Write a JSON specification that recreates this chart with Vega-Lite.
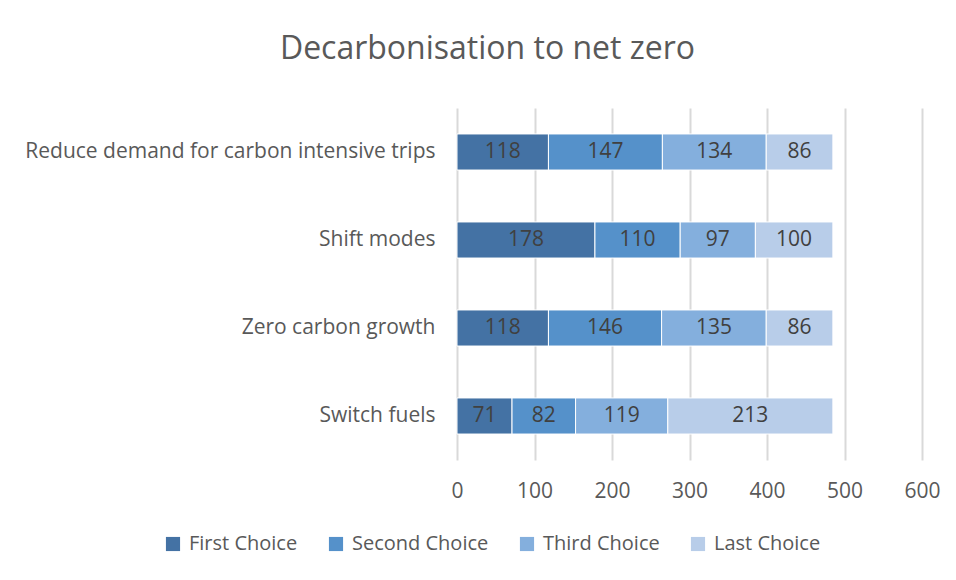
{
  "$schema": "https://vega.github.io/schema/vega-lite/v6.json",
  "autosize": {"type": "none"},
  "width": 465,
  "height": 352,
  "padding": {"left": 457, "top": 108, "right": 34, "bottom": 120},
  "background": "white",
  "config": {"view": {"stroke": null}},
  "title": {
    "text": "Decarbonisation to net zero",
    "fontSize": 32,
    "font": "Open Sans",
    "fontWeight": "normal",
    "color": "#595959",
    "anchor": "middle",
    "dx": -202,
    "offset": 42
  },
  "data": {
    "values": [
      {"task": "Reduce demand for carbon intensive trips", "choice": "First Choice", "order": 1, "count": 118},
      {"task": "Reduce demand for carbon intensive trips", "choice": "Second Choice", "order": 2, "count": 147},
      {"task": "Reduce demand for carbon intensive trips", "choice": "Third Choice", "order": 3, "count": 134},
      {"task": "Reduce demand for carbon intensive trips", "choice": "Last Choice", "order": 4, "count": 86},
      {"task": "Shift modes", "choice": "First Choice", "order": 1, "count": 178},
      {"task": "Shift modes", "choice": "Second Choice", "order": 2, "count": 110},
      {"task": "Shift modes", "choice": "Third Choice", "order": 3, "count": 97},
      {"task": "Shift modes", "choice": "Last Choice", "order": 4, "count": 100},
      {"task": "Zero carbon growth", "choice": "First Choice", "order": 1, "count": 118},
      {"task": "Zero carbon growth", "choice": "Second Choice", "order": 2, "count": 146},
      {"task": "Zero carbon growth", "choice": "Third Choice", "order": 3, "count": 135},
      {"task": "Zero carbon growth", "choice": "Last Choice", "order": 4, "count": 86},
      {"task": "Switch fuels", "choice": "First Choice", "order": 1, "count": 71},
      {"task": "Switch fuels", "choice": "Second Choice", "order": 2, "count": 82},
      {"task": "Switch fuels", "choice": "Third Choice", "order": 3, "count": 119},
      {"task": "Switch fuels", "choice": "Last Choice", "order": 4, "count": 213}
    ]
  },
  "encoding": {
    "y": {
      "field": "task",
      "type": "nominal",
      "sort": null,
      "scale": {"paddingInner": 0.59, "paddingOuter": 0.295},
      "axis": {
        "title": null,
        "domain": false,
        "ticks": false,
        "labelPadding": 22,
        "labelFontSize": 21,
        "labelFont": "Open Sans",
        "labelColor": "#595959",
        "labelLimit": 500
      }
    },
    "x": {
      "field": "count",
      "type": "quantitative",
      "stack": "zero",
      "scale": {"domain": [0, 600], "nice": false},
      "axis": {
        "title": null,
        "values": [0, 100, 200, 300, 400, 500, 600],
        "domain": false,
        "ticks": false,
        "grid": true,
        "gridColor": "#d9d9d9",
        "gridWidth": 2,
        "labelFlush": false,
        "labelPadding": 20,
        "labelFontSize": 21,
        "labelFont": "Open Sans",
        "labelColor": "#595959"
      }
    },
    "order": {"field": "order", "type": "quantitative"}
  },
  "layer": [
    {
      "mark": {"type": "bar", "stroke": "white", "strokeWidth": 1},
      "encoding": {
        "color": {
          "field": "choice",
          "type": "nominal",
          "sort": ["First Choice", "Second Choice", "Third Choice", "Last Choice"],
          "scale": {
            "domain": ["First Choice", "Second Choice", "Third Choice", "Last Choice"],
            "range": ["#4472A4", "#5591CA", "#84AFDD", "#B8CDE9"]
          },
          "legend": {
            "title": null,
            "orient": "none",
            "direction": "horizontal",
            "legendX": -294,
            "legendY": 426,
            "symbolType": "square",
            "symbolSize": 200,
            "symbolStrokeWidth": 0,
            "labelFontSize": 20,
            "labelFont": "Open Sans",
            "labelColor": "#595959",
            "labelOffset": 6,
            "columnPadding": 28,
            "labelLimit": 300
          }
        }
      }
    },
    {
      "mark": {"type": "text", "fontSize": 21, "font": "Open Sans", "color": "#404040", "baseline": "middle", "align": "center"},
      "encoding": {
        "x": {"field": "count", "type": "quantitative", "stack": "zero", "bandPosition": 0.5},
        "text": {"field": "count", "type": "quantitative"}
      }
    }
  ]
}
